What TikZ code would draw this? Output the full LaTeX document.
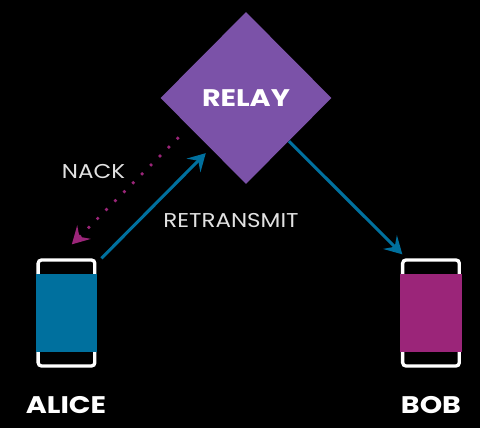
\documentclass[tikz,border=0pt]{standalone}
\usepackage{fontspec}
\setmainfont{Poppins}
\usetikzlibrary{arrows.meta,shapes.geometric}
\definecolor{relaypurple}{HTML}{7B52A8}
\definecolor{aliceblue}{HTML}{00709E}
\definecolor{bobmagenta}{HTML}{9B2579}
\definecolor{softwhite}{HTML}{E2E2E2}
\tikzset{
  relaybox/.style={diamond,aspect=1,fill=relaypurple,inner sep=0pt,minimum width=128.25pt,minimum height=129pt},
  phone/.style={draw=white,line width=2.5pt,rounded corners=2.5pt,inner sep=0pt,minimum width=42.5pt,minimum height=79.5pt},
  screen/.style={inner sep=0pt,minimum width=46pt,minimum height=58.5pt},
  taglabel/.style={text=softwhite,inner sep=0pt,xscale=1.15,transform shape,font=\fontsize{15}{16}\selectfont},
  endlabel/.style={text=white,inner sep=0pt,xscale=1.19,transform shape,font=\fontsize{18}{18}\selectfont\bfseries},
  link/.style={draw=aliceblue,line width=2.3pt,-{Stealth[length=13pt,width=14.5pt,inset=5pt]}},
  nack/.style={draw=bobmagenta,line width=2.8pt,line cap=round,dash pattern=on 0pt off 9.45pt,-{Stealth[length=13pt,width=14.5pt,inset=5pt,line width=0pt]}}
}
\begin{document}
\begin{tikzpicture}[x=0.75pt,y=-0.75pt]
\useasboundingbox[fill=black] (0,0) rectangle (480,428);
% phones
\node[phone] (alice) at (66.5,313) {};
\node[screen,fill=aliceblue] (alicescreen) at (66.5,313) {};
\node[phone] (bob) at (431,313) {};
\node[screen,fill=bobmagenta] (bobscreen) at (431,313) {};
% relay
\node[relaybox] (relay) at (246,98) {};
\node[endlabel] (relaylabel) at (246,98) {RELAY};
% connectors
\draw[link] ([shift={(3.7pt,0pt)}]alice.north east) -- ([shift={(2pt,-9pt)}]relay.south west);
\draw[link] (relay.south east) -- ([shift={(1pt,3pt)}]bob.north west);
\draw[nack] ([shift={(-19pt,2.2pt)}]relay.south west) -- ([shift={(4pt,10.5pt)}]alice.north);
% labels
\node[taglabel] (nacklabel) at (93.5,172) {NACK};
\node[taglabel] (retransmitlabel) at (231,220.5) {RETRANSMIT};
\node[endlabel] (alicelabel) at (66,405) {ALICE};
\node[endlabel] (boblabel) at (431,405) {BOB};
\end{tikzpicture}
\end{document}
